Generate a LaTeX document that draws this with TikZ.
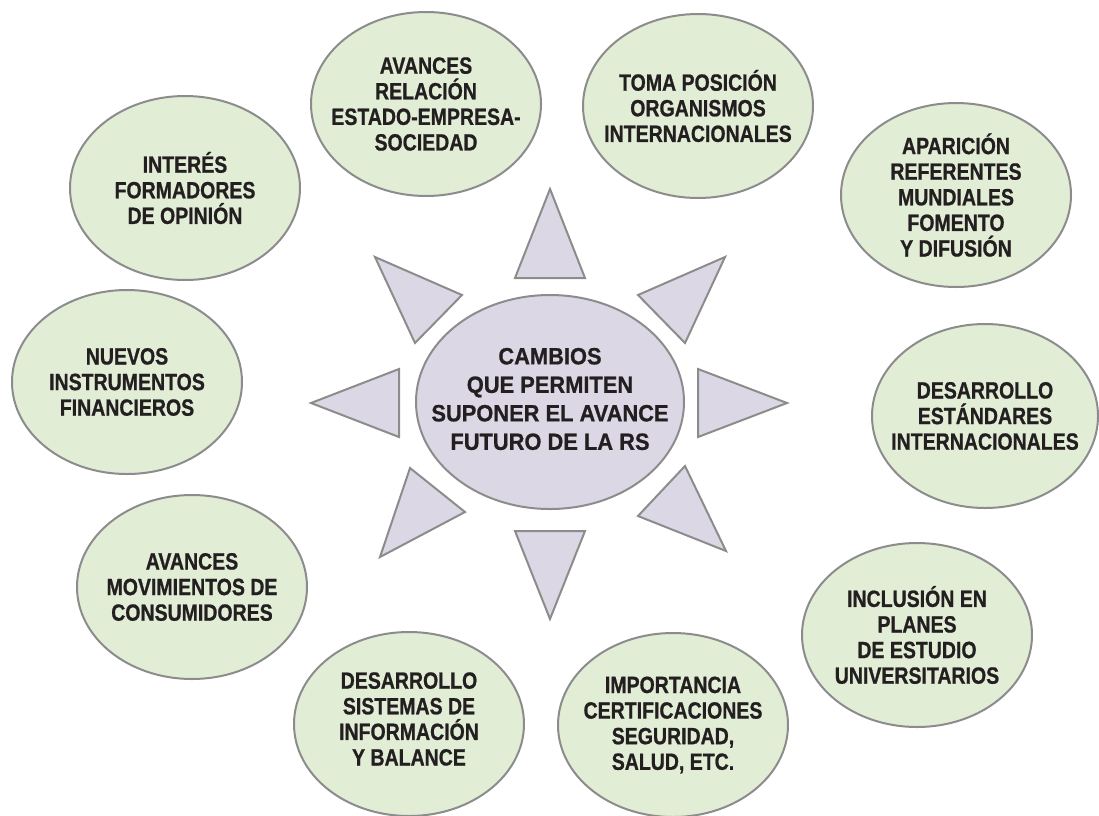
\documentclass[tikz,border=0pt]{standalone}
\usepackage{fontspec}
\setmainfont{Liberation Sans}
\newfontfamily\greenfont[FakeStretch=0.83, BoldFeatures={FakeBold=0.8}]{Liberation Sans}
\newfontfamily\centerfont[FakeStretch=0.93, BoldFeatures={FakeBold=0.8}]{Liberation Sans}
\usetikzlibrary{shapes.geometric}
\definecolor{bubfill}{HTML}{E2EDD6}
\definecolor{cenfill}{HTML}{DCD7E4}
\definecolor{edgegray}{HTML}{8C8C8C}
\definecolor{ink}{HTML}{231F20}
\begin{document}
\begin{tikzpicture}[x=1pt,y=-1pt,
  bub/.style={ellipse, draw=edgegray, fill=bubfill, line width=2pt,
    minimum width=230pt, minimum height=184pt, inner sep=0pt},
  cen/.style={ellipse, draw=edgegray, fill=cenfill, line width=2pt,
    minimum width=268pt, minimum height=214pt, inner sep=0pt},
  txt/.style={text=ink, font=\greenfont\fontsize{23.5}{25.6}\selectfont\bfseries,
    align=center, inner sep=0pt},
  ctxt/.style={text=ink, font=\centerfont\fontsize{23.5}{28.5}\selectfont\bfseries,
    align=center, inner sep=0pt},
  tri/.style={draw=edgegray, fill=cenfill, line width=2pt, line join=miter}]
\useasboundingbox (0,0) rectangle (1099,815);

% central ellipse
\node[cen, label={[ctxt, yshift=3pt]center:{CAMBIOS\\QUE PERMITEN\\SUPONER EL AVANCE\\FUTURO DE LA RS}}] (c) at (550,402) {};

% triangles (rays)
\draw[tri] (550,189) -- (585,278) -- (515,278) -- cycle;
\draw[tri] (550,619) -- (515,531) -- (585,531) -- cycle;
\draw[tri] (787,403) -- (698,437) -- (698,369) -- cycle;
\draw[tri] (311,403) -- (399,369) -- (399,437) -- cycle;
\draw[tri] (375,257) -- (462,295) -- (415,343) -- cycle;
\draw[tri] (725,257) -- (685,343) -- (638,295) -- cycle;
\draw[tri] (726,551) -- (638,516) -- (685,466) -- cycle;
\draw[tri] (380,557) -- (410,468) -- (465,512) -- cycle;

% outer ellipses
\node[bub, label={[txt]center:{AVANCES\\RELACIÓN\\ESTADO-EMPRESA-\\SOCIEDAD}}] (e1) at (426,104) {};
\node[bub, label={[txt]center:{TOMA POSICIÓN\\ORGANISMOS\\INTERNACIONALES}}] (e2) at (698,106) {};
\node[bub, label={[txt]center:{APARICIÓN\\REFERENTES\\MUNDIALES\\FOMENTO\\Y DIFUSIÓN}}] (e3) at (956,195) {};
\node[bub, minimum width=226pt, label={[txt]center:{DESARROLLO\\ESTÁNDARES\\INTERNACIONALES}}] (e4) at (985,416) {};
\node[bub, label={[txt]center:{INCLUSIÓN EN\\PLANES\\DE ESTUDIO\\UNIVERSITARIOS}}] (e5) at (917,635) {};
\node[bub, label={[txt]center:{IMPORTANCIA\\CERTIFICACIONES\\SEGURIDAD,\\SALUD, ETC.}}] (e6) at (673,725) {};
\node[bub, label={[txt, yshift=5pt]center:{DESARROLLO\\SISTEMAS DE\\INFORMACIÓN\\Y BALANCE}}] (e7) at (409,724) {};
\node[bub, label={[txt]center:{AVANCES\\MOVIMIENTOS DE\\CONSUMIDORES}}] (e8) at (192,587) {};
\node[bub, label={[txt]center:{NUEVOS\\INSTRUMENTOS\\FINANCIEROS}}] (e9) at (127,382) {};
\node[bub, label={[txt]center:{INTERÉS\\FORMADORES\\DE OPINIÓN}}] (e10) at (185,188) {};
\end{tikzpicture}
\end{document}
